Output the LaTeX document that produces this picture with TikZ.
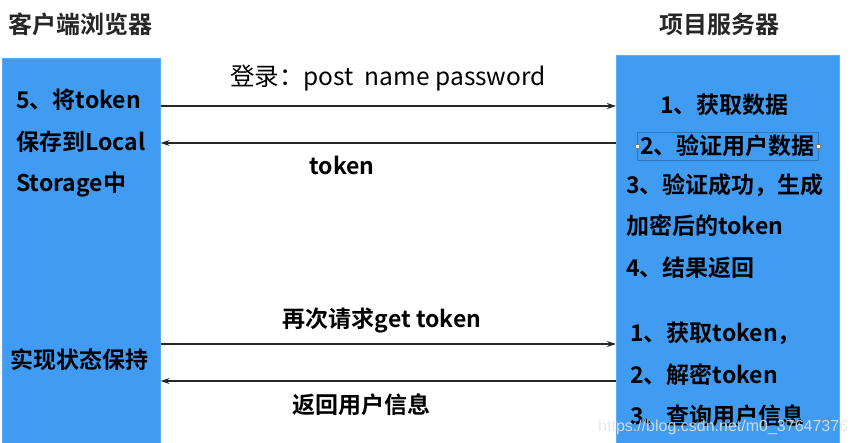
\documentclass[tikz,border=0pt]{standalone}
\usepackage{fontspec}
\usepackage{xcolor}
\setmainfont{Noto Sans CJK SC}[BoldFont={Noto Sans CJK SC Bold}]
\newfontfamily\wmfont{Liberation Sans}
\usetikzlibrary{arrows.meta}
\definecolor{colblue}{RGB}{64,156,242}
\definecolor{titlegray}{RGB}{38,38,38}
\tikzset{
  column/.style={fill=colblue, draw=colblue!85!white, line width=0.6pt, inner sep=0pt},
  boxtext/.style={anchor=west, font=\bfseries\fontsize{23}{23}\selectfont, inner sep=0pt},
  msg/.style={font=\bfseries\fontsize{23}{23}\selectfont, inner sep=0pt},
  title/.style={anchor=west, font=\bfseries\fontsize{24}{24}\selectfont, text=titlegray, inner sep=0pt},
  flow/.style={line width=1.4pt, draw=black!85, -{Stealth[length=9pt,width=6pt]}},
}
\begin{document}
\begin{tikzpicture}[x=1pt,y=-1pt]
\useasboundingbox (0,0) rectangle (850,443);
% titles
\node[title] (tclient) at (8,24) {客户端浏览器};
\node[title] (tserver) at (659,24) {项目服务器};
% the two columns
\node[column, anchor=north west, minimum width=158pt, minimum height=400pt] (client) at (2,58) {};
\node[column, anchor=north west, minimum width=223pt, minimum height=400pt] (server) at (616,55) {};
% client side
\node[boxtext] (c1) at (16,100) {5、将token};
\node[boxtext] (c2) at (16,142) {保存到Local};
\node[boxtext] (c3) at (16,185) {Storage中};
\node[boxtext] (c4) at (10,360) {实现状态保持};
% server side
\node[boxtext] (s1) at (660,105) {1、获取数据};
\node[boxtext, draw=colblue!75!black, line width=0.4pt, inner sep=3pt] (s2) at (637,146) {2、验证用户数据};
\fill[white, draw=gray] ([xshift=-2pt,yshift=-2pt]s2.west) rectangle ([xshift=2pt,yshift=2pt]s2.west);
\fill[white, draw=gray] ([xshift=-2pt,yshift=-2pt]s2.east) rectangle ([xshift=2pt,yshift=2pt]s2.east);
\node[boxtext] (s3) at (626,185) {3、验证成功，生成};
\node[boxtext] (s4) at (626,226) {加密后的token};
\node[boxtext] (s5) at (626,268) {4、结果返回};
\node[boxtext] (s6) at (630,333) {1、获取token，};
\node[boxtext] (s7) at (630,375) {2、解密token};
\node[boxtext] (s8) at (630,416) {3、查询用户信息};
% messages
\draw[flow] (client.east |- 0,106) -- (server.west |- 0,106);
\draw[flow] (server.west |- 0,143) -- (client.east |- 0,143);
\draw[flow] (client.east |- 0,344) -- (server.west |- 0,344);
\draw[flow] (server.west |- 0,381) -- (client.east |- 0,381);
\node[font=\fontsize{24.5}{24.5}\selectfont, inner sep=0pt] (m1) at (388,78) {登录：post\ \ name password};
\node[msg] (m2) at (342,165) {token};
\node[msg] (m3) at (382,320) {再次请求get token};
\node[msg] (m4) at (361,405) {返回用户信息};
% watermark
\node[anchor=west, font=\wmfont\fontsize{16}{16}\selectfont, text=white!80!gray, opacity=0.85, inner sep=0pt] (wm) at (598,427) {https://blog.csdn.net/m0\_37647376};
\end{tikzpicture}
\end{document}
